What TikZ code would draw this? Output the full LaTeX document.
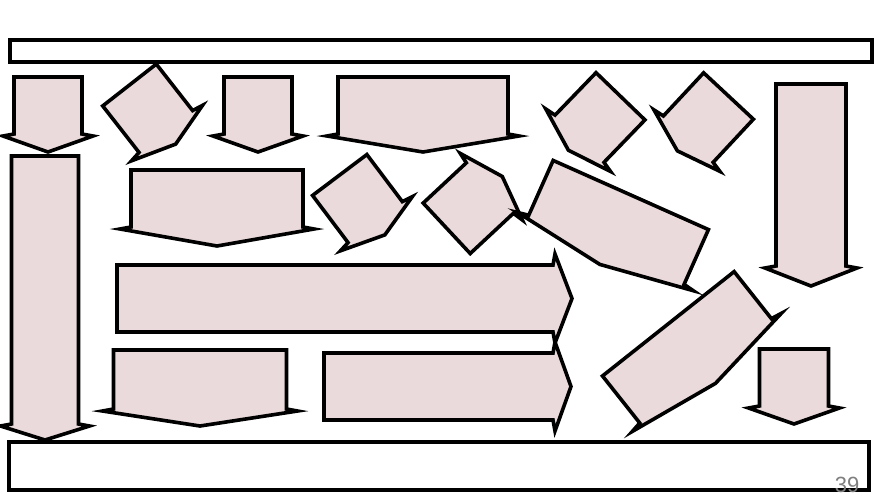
\documentclass[tikz,border=0pt]{standalone}
\usepackage{xcolor}
\usepackage{fontspec}
\setmainfont{Liberation Sans}
\usepackage{tikz}
\definecolor{figpink}{HTML}{EBDADB}
\definecolor{figgray}{HTML}{7F7F7F}
\tikzset{
  arrowbody/.style={fill=figpink,draw=black,line width=3.6pt,line join=miter},
  banner/.style={fill=white,draw=black,line width=3.4pt}
}
% block arrow: rear centre x, y, turn, width, body length, head length
\newcommand{\blockarrow}[6]{%
  \begin{scope}[shift={(#1,#2)},rotate=#3]
    \filldraw[arrowbody] (-#4/2,0) -- (#4/2,0) -- (#4/2,#5) -- (#4/2+11,#5+2)
      -- (0,#5+#6) -- (-#4/2-11,#5+2) -- (-#4/2,#5) -- cycle;
  \end{scope}}

\begin{document}
\begin{tikzpicture}[x=1pt,y=-1pt]
    \useasboundingbox (0,0) rectangle (884,499);
    \draw[banner] (10,40) rectangle (872,62);
    \draw[banner] (9,442) rectangle (869,490);
    % straight arrows
    \foreach \x/\y/\a/\w/\l/\h in {48/77/0/68/57/18, 45/156/0/67/268/16,
        258/77/0/68/57/18, 423/77/0/170/57/18, 811/84/0/70/182/20,
        217/170/0/172/57/19, 200/350/0/173/59/17, 794/349/0/69/57/18,
        117/298.5/90/67/436/19, 324/386.5/90/67/229/18} {
      \blockarrow{\x}{\y}{\a}{\w}{\l}{\h}
    }
    % turned arrows
    \foreach \x/\y/\a/\w/\l/\h in {129.5/85/38/68/59/16, 620.5/96.3/-44/68/59/16,
        728.5/96/-43/68/59/16, 339.7/175/37/68/59/16, 446.7/228.3/133/69/59/17,
        630.8/195/-24/170/60/16, 668.3/323.8/38.4/168/60/16} {
      \blockarrow{\x}{\y}{\a}{\w}{\l}{\h}
    }
    \node[text=figgray,font=\fontsize{22}{24}\selectfont,inner sep=0pt] (pagenum) at (847,485) {39};
  \end{tikzpicture}
\end{document}
